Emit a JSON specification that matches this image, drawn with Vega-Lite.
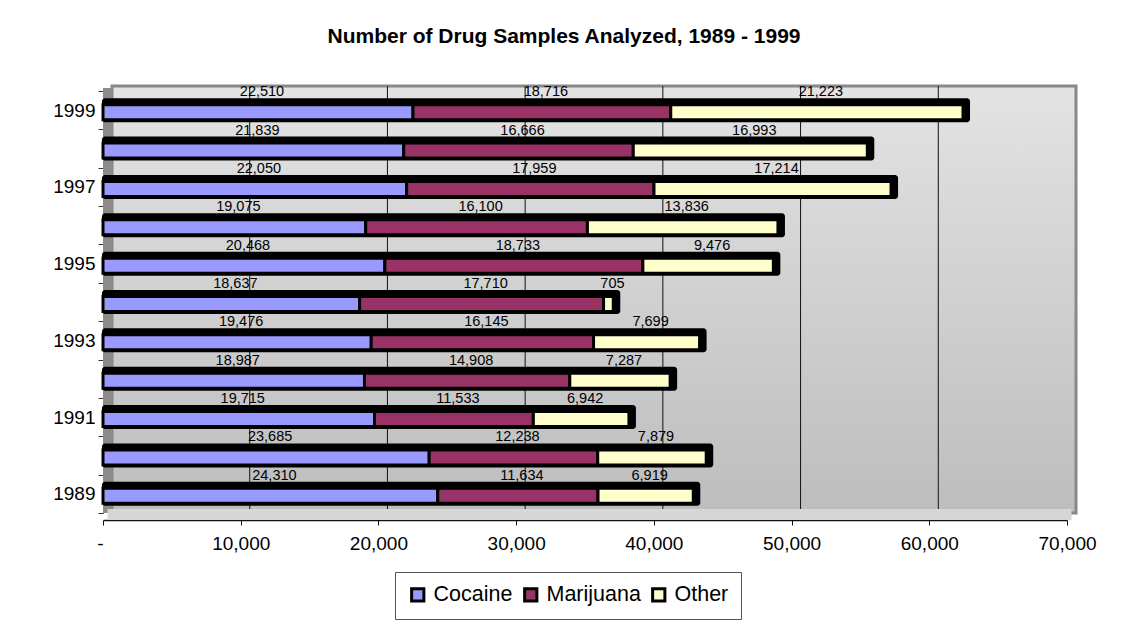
{
  "$schema": "https://vega.github.io/schema/vega-lite/v6.json",
  "width": 964,
  "height": 422,
  "autosize": {"type": "none"},
  "padding": {"left": 103, "top": 91, "right": 77, "bottom": 125},
  "background": "white",
  "title": {
    "text": "Number of Drug Samples Analyzed, 1989 - 1999",
    "font": "Liberation Sans",
    "fontWeight": "bold",
    "fontSize": 21,
    "color": "black",
    "anchor": "middle",
    "frame": "group",
    "dx": -21,
    "offset": 35
  },
  "datasets": {
    "samples": [
      {"year": 1999, "drug": "Cocaine", "value": 22510},
      {"year": 1999, "drug": "Marijuana", "value": 18716},
      {"year": 1999, "drug": "Other", "value": 21223},
      {"year": 1998, "drug": "Cocaine", "value": 21839},
      {"year": 1998, "drug": "Marijuana", "value": 16666},
      {"year": 1998, "drug": "Other", "value": 16993},
      {"year": 1997, "drug": "Cocaine", "value": 22050},
      {"year": 1997, "drug": "Marijuana", "value": 17959},
      {"year": 1997, "drug": "Other", "value": 17214},
      {"year": 1996, "drug": "Cocaine", "value": 19075},
      {"year": 1996, "drug": "Marijuana", "value": 16100},
      {"year": 1996, "drug": "Other", "value": 13836},
      {"year": 1995, "drug": "Cocaine", "value": 20468},
      {"year": 1995, "drug": "Marijuana", "value": 18733},
      {"year": 1995, "drug": "Other", "value": 9476},
      {"year": 1994, "drug": "Cocaine", "value": 18637},
      {"year": 1994, "drug": "Marijuana", "value": 17710},
      {"year": 1994, "drug": "Other", "value": 705},
      {"year": 1993, "drug": "Cocaine", "value": 19476},
      {"year": 1993, "drug": "Marijuana", "value": 16145},
      {"year": 1993, "drug": "Other", "value": 7699},
      {"year": 1992, "drug": "Cocaine", "value": 18987},
      {"year": 1992, "drug": "Marijuana", "value": 14908},
      {"year": 1992, "drug": "Other", "value": 7287},
      {"year": 1991, "drug": "Cocaine", "value": 19715},
      {"year": 1991, "drug": "Marijuana", "value": 11533},
      {"year": 1991, "drug": "Other", "value": 6942},
      {"year": 1990, "drug": "Cocaine", "value": 23685},
      {"year": 1990, "drug": "Marijuana", "value": 12238},
      {"year": 1990, "drug": "Other", "value": 7879},
      {"year": 1989, "drug": "Cocaine", "value": 24310},
      {"year": 1989, "drug": "Marijuana", "value": 11634},
      {"year": 1989, "drug": "Other", "value": 6919}
    ],
    "wall": [{"start": 0, "end": 70000}],
    "grid": [{"v": 10000}, {"v": 20000}, {"v": 30000}, {"v": 40000}, {"v": 50000}, {"v": 60000}]
  },
  "layer": [
    {
      "data": {"name": "wall"},
      "mark": {
        "type": "rect",
        "xOffset": 9, "x2Offset": 9, "yOffset": -5, "y2Offset": -4,
        "stroke": "#888888", "strokeWidth": 3,
        "color": {"gradient": "linear", "x1": 0, "y1": 0, "x2": 0, "y2": 1,
          "stops": [{"offset": 0, "color": "#e3e3e3"}, {"offset": 1, "color": "#bdbdbd"}]}
      },
      "encoding": {
        "x": {"field": "start", "type": "quantitative", "scale": {"domain": [0, 70000], "nice": false}},
        "x2": {"field": "end"}
      }
    },
    {
      "data": {"name": "grid"},
      "mark": {"type": "rule", "xOffset": 9, "yOffset": -5, "y2Offset": -4, "color": "#111111", "strokeWidth": 1},
      "encoding": {
        "x": {"field": "v", "type": "quantitative"}
      }
    },
    {
      "data": {"name": "wall"},
      "mark": {"type": "rule", "xOffset": 4.5, "yOffset": -3, "y2Offset": 2, "color": "#8c8c8c", "strokeWidth": 9},
      "encoding": {
        "x": {"field": "start", "type": "quantitative"}
      }
    },
    {
      "data": {"name": "wall"},
      "mark": {"type": "rule", "xOffset": 4.5, "x2Offset": 4.5, "yOffset": 1.5, "color": "#d6d6d6", "strokeWidth": 11},
      "encoding": {
        "x": {"field": "start", "type": "quantitative"},
        "x2": {"field": "end"},
        "y": {"datum": 1989, "type": "ordinal", "bandPosition": 1,
          "scale": {"domain": [1999, 1998, 1997, 1996, 1995, 1994, 1993, 1992, 1991, 1990, 1989], "paddingInner": 0, "paddingOuter": 0}}
      }
    },
    {
      "data": {"name": "samples"},
      "mark": {"type": "bar", "color": "black", "height": 24, "xOffset": 7, "x2Offset": -1, "cornerRadius": 3},
      "encoding": {
        "x": {"aggregate": "sum", "field": "value", "type": "quantitative"},
        "x2": {"datum": 0},
        "y": {"field": "year", "type": "ordinal",
          "scale": {"domain": [1999, 1998, 1997, 1996, 1995, 1994, 1993, 1992, 1991, 1990, 1989], "paddingInner": 0, "paddingOuter": 0},
          "axis": {
            "title": null,
            "labelExpr": "datum.value % 2 == 1 ? datum.label : ''",
            "tickBand": "extent",
            "domainColor": "#333333",
            "tickColor": "#333333",
            "tickSize": 5,
            "labelPadding": 3,
            "labelFont": "Liberation Sans",
            "labelFontSize": 19,
            "labelColor": "black",
            "grid": false
          }
        }
      }
    },
    {
      "data": {"name": "samples"},
      "mark": {"type": "bar", "height": 15, "yOffset": 2, "stroke": "black", "strokeWidth": 3},
      "encoding": {
        "x": {"field": "value", "type": "quantitative", "stack": "zero",
          "axis": {
            "title": null,
            "values": [0, 10000, 20000, 30000, 40000, 50000, 60000, 70000],
            "labelExpr": "datum.value == 0 ? '-' : format(datum.value, ',')",
            "labelAlign": {"condition": {"test": "datum.value == 0", "value": "right"}, "value": "center"},
            "labelFlush": false,
            "offset": 7,
            "domainColor": "#111111",
            "domainWidth": 1.5,
            "tickColor": "#111111",
            "tickSize": 5,
            "labelPadding": 9,
            "labelFont": "Liberation Sans",
            "labelFontSize": 19,
            "labelColor": "black",
            "grid": false
          }
        },
        "y": {"field": "year", "type": "ordinal",
          "scale": {"domain": [1999, 1998, 1997, 1996, 1995, 1994, 1993, 1992, 1991, 1990, 1989], "paddingInner": 0, "paddingOuter": 0}},
        "color": {
          "field": "drug", "type": "nominal",
          "scale": {"domain": ["Cocaine", "Marijuana", "Other"], "range": ["#9999ff", "#993366", "#ffffcc"]},
          "legend": {
            "title": null,
            "orient": "none",
            "legendX": 292,
            "legendY": 481,
            "direction": "horizontal",
            "strokeColor": "#555555",
            "padding": 12,
            "symbolType": "square",
            "symbolSize": 150,
            "symbolStrokeColor": "black",
            "symbolStrokeWidth": 3,
            "symbolOpacity": 1,
            "labelFont": "Liberation Sans",
            "labelFontSize": 21.5,
            "labelColor": "black",
            "labelOffset": 5,
            "columnPadding": 5
          }
        },
        "order": {"field": "drug"}
      }
    },
    {
      "data": {"name": "samples"},
      "mark": {"type": "text", "yOffset": -18, "dx": 4, "font": "Liberation Sans", "fontSize": 14.5, "color": "black"},
      "encoding": {
        "x": {"field": "value", "type": "quantitative", "stack": "zero", "bandPosition": 0.5},
        "y": {"field": "year", "type": "ordinal",
          "scale": {"domain": [1999, 1998, 1997, 1996, 1995, 1994, 1993, 1992, 1991, 1990, 1989], "paddingInner": 0, "paddingOuter": 0}},
        "detail": {"field": "drug"},
        "order": {"field": "drug"},
        "text": {"field": "value", "type": "quantitative", "format": ","}
      }
    }
  ],
  "config": {
    "view": {"stroke": null}
  }
}
